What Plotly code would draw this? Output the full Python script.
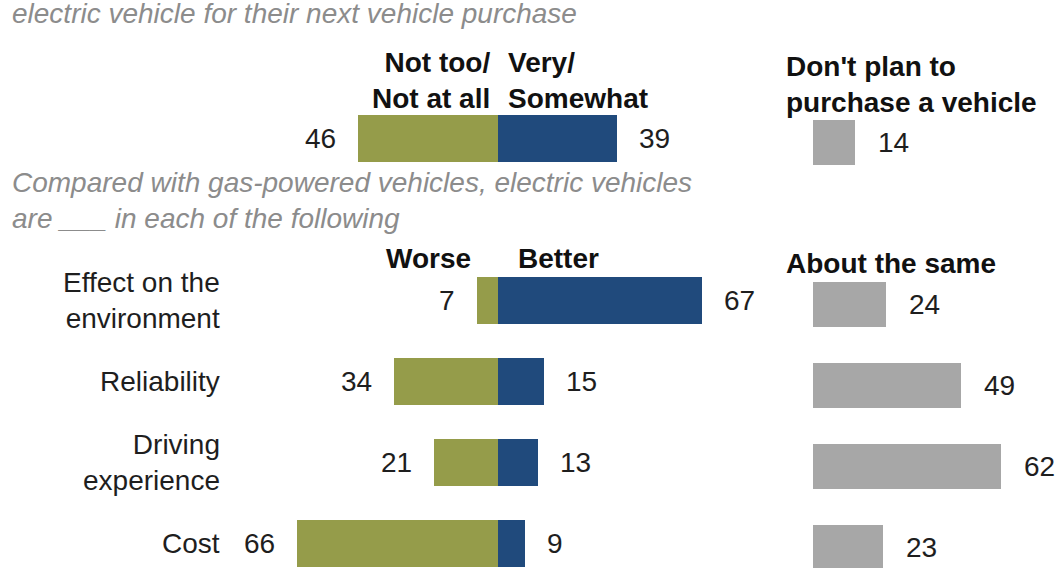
import plotly.graph_objects as go

# ---- data ----
row_keys = ["Plan to purchase", "spacer", "Effect on the environment",
            "Reliability", "Driving experience", "Cost"]
row_labels = ["", "", "Effect on the<br>environment", "Reliability",
              "Driving<br>experience", "Cost"]
negative_vals = [46, None, 7, 34, 21, 66]   # Not too/Not at all ; Worse
positive_vals = [39, None, 67, 15, 13, 9]   # Very/Somewhat ; Better
neutral_vals = [14, None, 24, 49, 62, 23]   # Don't plan ; About the same

neg_headers = ["Not too/<br>Not at all", "Worse"]
pos_headers = ["Very/<br>Somewhat", "Better"]
neutral_headers = ["Don't plan to<br>purchase a vehicle", "About the same"]
subtitle_top = "electric vehicle for their next vehicle purchase"
subtitle_mid = "Compared with gas-powered vehicles, electric vehicles<br>are ___ in each of the following"

# ---- style ----
GREEN = "#959c4a"
BLUE = "#204a7c"
GRAY = "#a7a7a7"
TXT = "#1e1e1e"
SUB = "#8c8c8c"
FONT = "Liberation Sans, Arial, sans-serif"
W, H = 1060, 568
BARW = 0.58

fig = go.Figure()
fig.add_trace(go.Bar(y=row_keys, x=[-v if v is not None else None for v in negative_vals],
                     orientation="h", marker=dict(color=GREEN, line_width=0),
                     width=BARW, xaxis="x", yaxis="y", hoverinfo="skip"))
fig.add_trace(go.Bar(y=row_keys, x=positive_vals, orientation="h",
                     marker=dict(color=BLUE, line_width=0),
                     width=BARW, xaxis="x", yaxis="y", hoverinfo="skip"))
fig.add_trace(go.Bar(y=row_keys, x=neutral_vals, orientation="h",
                     marker=dict(color=GRAY, line_width=0),
                     width=BARW * 46 / 47, xaxis="x2", yaxis="y2", hoverinfo="skip"))

ann = []
num_font = dict(family=FONT, size=28, color=TXT)
for key, lab, n, p, g in zip(row_keys, row_labels, negative_vals, positive_vals, neutral_vals):
    if lab:
        ann.append(dict(x=222 / W, xref="paper", y=key, yref="y", text=lab,
                        xanchor="right", yanchor="middle", align="right",
                        showarrow=False, font=num_font))
    if n is not None:
        ann.append(dict(x=-n, xref="x", y=key, yref="y", text=str(n), xanchor="right",
                        xshift=-20, showarrow=False, font=num_font))
    if p is not None:
        ann.append(dict(x=p, xref="x", y=key, yref="y", text=str(p), xanchor="left",
                        xshift=20, showarrow=False, font=num_font))
    if g is not None:
        ann.append(dict(x=g, xref="x2", y=key, yref="y2", text=str(g), xanchor="left",
                        xshift=21, showarrow=False, font=num_font))

bold = dict(family=FONT, size=28, color="#111111", weight="bold")
def py(pix):
    return 1 - pix / H

ann += [
    dict(x=0, xref="x", y=py(81), yref="paper", text=neg_headers[0], xanchor="right",
         xshift=-6, yanchor="middle", align="right", showarrow=False, font=bold),
    dict(x=0, xref="x", y=py(81), yref="paper", text=pos_headers[0], xanchor="left",
         xshift=8, yanchor="middle", align="left", showarrow=False, font=bold),
    dict(x=0, xref="x2", y=py(84), yref="paper", text=neutral_headers[0], xanchor="left",
         xshift=-29, yanchor="middle", align="left", showarrow=False, font=bold),
    dict(x=0, xref="x", y=py(258), yref="paper", text=neg_headers[1], xanchor="right",
         xshift=-25, yanchor="middle", showarrow=False, font=bold),
    dict(x=0, xref="x", y=py(258), yref="paper", text=pos_headers[1], xanchor="left",
         xshift=18, yanchor="middle", showarrow=False, font=bold),
    dict(x=0, xref="x2", y=py(263), yref="paper", text=neutral_headers[1], xanchor="left",
         xshift=-29, yanchor="middle", showarrow=False, font=bold),
    dict(x=10 / W, xref="paper", y=py(200), yref="paper", text="<i>" + subtitle_mid + "</i>",
         xanchor="left", yanchor="middle", align="left", showarrow=False,
         font=dict(family=FONT, size=28, color=SUB)),
    dict(x=10 / W, xref="paper", y=py(14), yref="paper", text="<i>" + subtitle_top + "</i>",
         xanchor="left", yanchor="middle", align="left", showarrow=False,
         font=dict(family=FONT, size=28, color=SUB)),
]

# axis ranges: diverging zero at 498 px (3.05 px/unit), neutral zero at 813 px (3.03 px/unit)
x_range = [-498 / 3.05, (W - 498) / 3.05]
x2_range = [-813 / 3.03, (W - 813) / 3.03]
# rows: center of first row at 138.5 px, 81 px spacing; neutral column 4 px lower
y_range = [(H - 138.5) / 81, -138.5 / 81]
y2_range = [(H - 142.5) / 81, -142.5 / 81]

fig.update_layout(
    width=W, height=H, margin=dict(l=0, r=0, t=0, b=0),
    paper_bgcolor="white", plot_bgcolor="white",
    barmode="relative", showlegend=False, bargap=0,
    xaxis=dict(range=x_range, visible=False, domain=[0, 1], fixedrange=True),
    xaxis2=dict(range=x2_range, visible=False, overlaying="x", fixedrange=True),
    yaxis=dict(type="category", categoryorder="array", categoryarray=row_keys,
               range=y_range, visible=False, fixedrange=True),
    yaxis2=dict(type="category", categoryorder="array", categoryarray=row_keys,
                range=y2_range, visible=False, overlaying="y", fixedrange=True),
    annotations=ann,
    font=dict(family=FONT),
)

fig.write_html("out.html", config={"displayModeBar": False},
               post_script="document.body.style.margin='0';document.body.style.overflow='hidden';")
